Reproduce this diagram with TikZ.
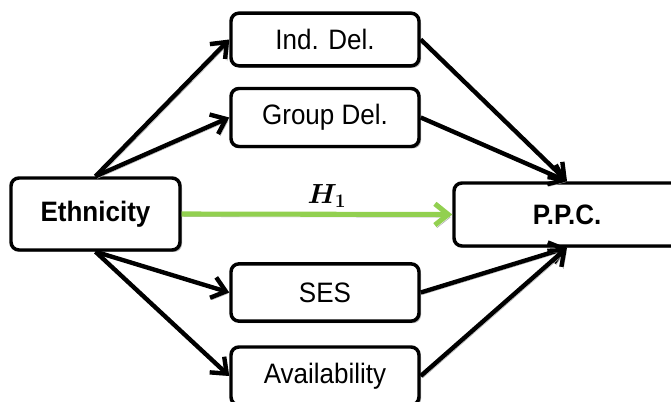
\documentclass[tikz,border=0pt]{standalone}
\usepackage{fontspec}
\setmainfont{Liberation Sans}
\usetikzlibrary{arrows.meta,shadows}
\definecolor{hgreen}{RGB}{146,208,80}
\newcommand{\labfont}{\fontsize{20}{24}\selectfont}
\newcommand{\boxfont}{\fontsize{19.5}{23}\selectfont}
\newcommand{\hone}{{\boldmath\(H_{1}\)}}
\newcommand{\tall}[1]{\scalebox{1}[1.08]{#1}}
\begin{document}
\begin{tikzpicture}[x=0.75pt,y=-0.75pt,
  box/.style={draw=black, line width=2.6pt, rounded corners=6pt, fill=white,
    inner sep=0pt, minimum width=141pt,
    drop shadow={shadow xshift=1.5pt, shadow yshift=-1.5pt, opacity=0.3, fill=black},
    font=\boxfont},
  bbox/.style={box, font=\boxfont\bfseries},
  conn/.style={line width=3.3pt, black,
    -{Straight Barb[length=10pt,width=16pt]},
    preaction={draw=black!30, transform canvas={shift={(1.5pt,-1.5pt)}}}},
  hyp/.style={line width=3.8pt, draw=hgreen,
    -{Straight Barb[length=10pt,width=16pt]},
    preaction={draw=black!35, transform canvas={shift={(1.5pt,-2pt)}}}},
  lab/.style={font=\labfont, text=black}
]
\useasboundingbox (0,0) rectangle (671,402);
\begin{scope}
\clip (0,0) rectangle (671,402);
\node[box, minimum height=39.5pt] (ind) at (325,39.5) {\tall{Ind. Del.}};
\node[box, minimum height=43.5pt] (grp) at (325,117.5) {\tall{Group Del.}};
\node[box, minimum height=43pt] (ses) at (325,292.5) {\tall{SES}};
\node[box, minimum height=43.5pt] (av) at (325,376) {\tall{Availability}};
\node[bbox, minimum width=126.75pt, minimum height=54pt] (eth) at (95.5,214) {\tall{Ethnicity}};
\node[bbox, minimum width=169.5pt, minimum height=47.25pt] (ppc) at (567,214.5) {\tall{P.P.C.}};

\draw[conn] (eth.north) -- (ind.west);
\draw[conn] (eth.north) -- (grp.west);
\draw[conn] (eth.south) -- (ses.west);
\draw[conn] (eth.south) -- (av.west);
\draw[conn] (ind.east) -- (ppc.north);
\draw[conn] (grp.east) -- (ppc.north);
\draw[conn] (ses.east) -- (ppc.south);
\draw[conn] (av.east) -- (ppc.south);
\draw[hyp] (eth.east) -- (ppc.west);
\node[lab] (h1) at (327,196) {\hone};
\end{scope}
\end{tikzpicture}
\end{document}
